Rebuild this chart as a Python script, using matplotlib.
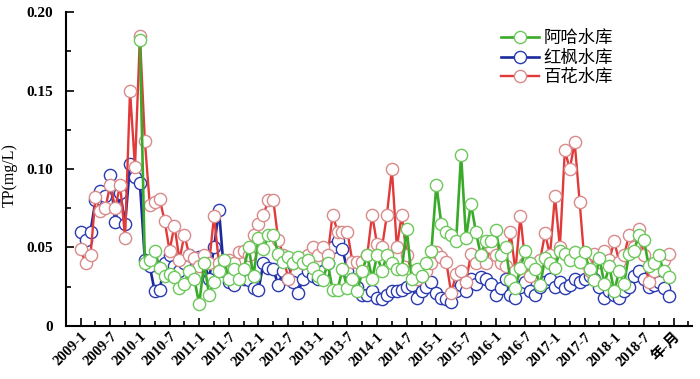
import numpy as np
import matplotlib.pyplot as plt
from matplotlib.ticker import MultipleLocator

plt.rcParams['font.family'] = ['Liberation Serif', 'Noto Sans CJK SC']

# monthly TP (mg/L), 2009-1 .. 2018-12
baihua = [0.049, 0.040, 0.045, 0.082, 0.073, 0.075, 0.090, 0.075, 0.090, 0.056,
          0.150, 0.101, 0.185, 0.118, 0.077, 0.079, 0.081, 0.067, 0.048, 0.064,
          0.042, 0.058, 0.045, 0.043, 0.038, 0.045, 0.040, 0.070, 0.040, 0.038,
          0.042, 0.040, 0.047, 0.048, 0.045, 0.058, 0.065, 0.071, 0.080, 0.080,
          0.055, 0.045, 0.030, 0.040, 0.042, 0.040, 0.045, 0.050, 0.045, 0.050,
          0.045, 0.071, 0.060, 0.060, 0.060, 0.041, 0.041, 0.041, 0.045, 0.071,
          0.052, 0.050, 0.071, 0.100, 0.050, 0.071, 0.045, 0.035, 0.030, 0.032,
          0.035, 0.040, 0.047, 0.044, 0.041, 0.021, 0.033, 0.035, 0.028, 0.046,
          0.040, 0.045, 0.040, 0.050, 0.045, 0.040, 0.038, 0.060, 0.035, 0.070,
          0.040, 0.032, 0.038, 0.042, 0.059, 0.045, 0.083, 0.050, 0.112, 0.100,
          0.117, 0.079, 0.040, 0.035, 0.046, 0.041, 0.048, 0.042, 0.054, 0.041,
          0.045, 0.058, 0.050, 0.062, 0.045, 0.028, 0.035, 0.040, 0.042, 0.046]

hongfeng = [0.060, 0.055, 0.060, 0.080, 0.086, 0.083, 0.096, 0.066, 0.085, 0.065,
            0.103, 0.095, 0.091, 0.042, 0.038, 0.022, 0.023, 0.040, 0.045, 0.038,
            0.035, 0.040, 0.045, 0.043, 0.044, 0.040, 0.030, 0.050, 0.074, 0.035,
            0.028, 0.026, 0.033, 0.030, 0.029, 0.024, 0.023, 0.040, 0.037, 0.036,
            0.026, 0.035, 0.030, 0.028, 0.021, 0.030, 0.035, 0.032, 0.030, 0.035,
            0.040, 0.050, 0.054, 0.049, 0.035, 0.030, 0.025, 0.020, 0.020, 0.022,
            0.018, 0.017, 0.020, 0.022, 0.022, 0.023, 0.025, 0.026, 0.018, 0.022,
            0.025, 0.028, 0.021, 0.018, 0.017, 0.015, 0.022, 0.026, 0.022, 0.030,
            0.027, 0.031, 0.030, 0.027, 0.020, 0.024, 0.030, 0.020, 0.018, 0.025,
            0.028, 0.022, 0.020, 0.025, 0.028, 0.030, 0.025, 0.028, 0.024, 0.026,
            0.030, 0.028, 0.030, 0.032, 0.030, 0.025, 0.018, 0.022, 0.020, 0.018,
            0.022, 0.025, 0.032, 0.035, 0.030, 0.025, 0.026, 0.028, 0.024, 0.019]

# Aha reservoir starts in 2010-1
aha = [np.nan] * 12 + [
    0.182, 0.040, 0.042, 0.048, 0.037, 0.032, 0.033, 0.031, 0.024, 0.027,
    0.035, 0.030, 0.014, 0.040, 0.020, 0.028, 0.035, 0.042, 0.030, 0.036,
    0.030, 0.036, 0.050, 0.032, 0.056, 0.049, 0.058, 0.058, 0.046, 0.041,
    0.044, 0.040, 0.044, 0.040, 0.042, 0.037, 0.032, 0.029, 0.040, 0.023,
    0.023, 0.036, 0.024, 0.030, 0.022, 0.035, 0.045, 0.030, 0.045, 0.035,
    0.045, 0.040, 0.036, 0.036, 0.062, 0.030, 0.036, 0.032, 0.040, 0.048,
    0.090, 0.065, 0.060, 0.058, 0.054, 0.109, 0.056, 0.078, 0.060, 0.045,
    0.054, 0.054, 0.061, 0.045, 0.050, 0.029, 0.024, 0.037, 0.048, 0.040,
    0.036, 0.026, 0.043, 0.040, 0.037, 0.048, 0.046, 0.042, 0.047, 0.041,
    0.047, 0.036, 0.029, 0.043, 0.027, 0.038, 0.022, 0.035, 0.027, 0.046,
    0.048, 0.058, 0.055, 0.038, 0.040, 0.045, 0.035, 0.031]

years = range(2009, 2019)
tick_labels = [f'{y}-{m}' for y in years for m in (1, 7)] + ['年-月']

x = np.arange(len(baihua))

fig = plt.figure(figsize=(7, 3.79), dpi=100)
ax = fig.add_axes([0.094, 0.140, 0.895, 0.828])

mk = dict(marker='o', markersize=8.8, markerfacecolor='white', markeredgewidth=1.0)
l3, = ax.plot(x, baihua, color='#e23a3a', lw=1.7, markeredgecolor='#d98a8a', zorder=2, **mk)
l2, = ax.plot(x, hongfeng, color='#1a2a9c', lw=1.9, markeredgecolor='#2a3ab0', zorder=1, **mk)
l1, = ax.plot(x, aha, color='#3aaa2a', lw=1.9, markeredgecolor='#6cc85a', zorder=3, **mk)

ax.set_xlim(-3, 123.8)
ax.set_ylim(0, 0.20)
ax.set_xticks(np.arange(0, 121, 6))
ax.set_xticklabels(tick_labels, rotation=45, ha='right', va='top', rotation_mode='anchor',
                   fontsize=10.5, fontweight='bold')
ax.xaxis.set_minor_locator(MultipleLocator(3))
ax.yaxis.set_minor_locator(MultipleLocator(0.025))
ax.set_yticks([0, 0.05, 0.10, 0.15, 0.20])
ax.set_yticklabels(['0', '0.05', '0.10', '0.15', '0.20'], fontsize=11, fontweight='bold')
ax.tick_params(which='both', direction='in', width=1.2)
ax.tick_params(which='major', length=6)
ax.tick_params(which='minor', length=3.5)
ax.tick_params(axis='x', pad=3)
ax.tick_params(axis='y', pad=9)
for s in ['top', 'right']:
    ax.spines[s].set_visible(False)
for s in ['left', 'bottom']:
    ax.spines[s].set_linewidth(1.5)

ax.set_ylabel('TP(mg/L)', fontsize=11.5)
ax.yaxis.set_label_coords(-0.077, 0.48)

ax.legend([l1, l2, l3], ['阿哈水库', '红枫水库', '百花水库'], loc='upper left',
          bbox_to_anchor=(0.67, 0.99), frameon=False, fontsize=12.5,
          handlelength=2.2, labelspacing=0.2, handletextpad=0.25)

fig.savefig('out.png', dpi=100)
